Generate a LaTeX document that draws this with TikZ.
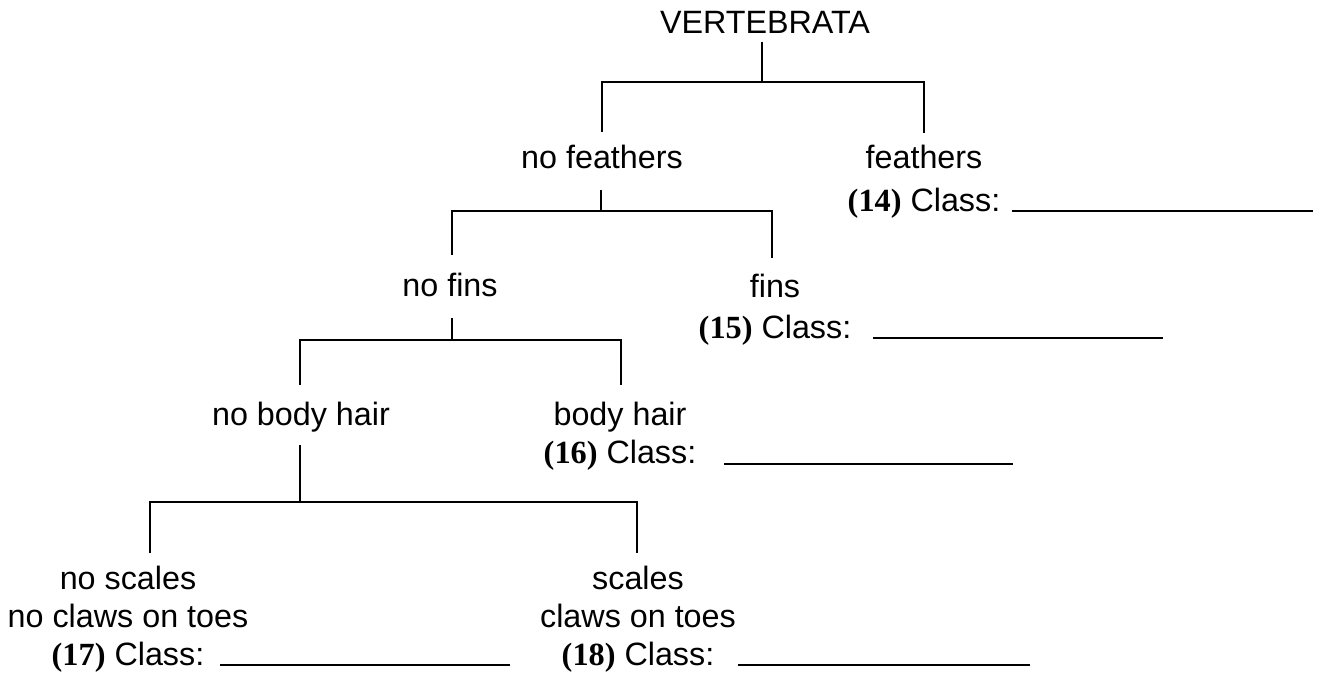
\documentclass[tikz,border=0pt]{standalone}
\usepackage{fontspec}
\setmainfont{Liberation Sans}
\newfontfamily\numfont{Liberation Serif}
\newcommand{\cnum}[1]{{\numfont\bfseries (#1)}}
\begin{document}
\begin{tikzpicture}[x=1pt,y=-1pt,
  lbl/.style={inner sep=0pt,outer sep=0pt,anchor=base,align=center,font=\fontsize{32.3}{38}\selectfont},
  tree/.style={line width=2.8pt},
  blank/.style={line width=2pt}]
\useasboundingbox (0,0) rectangle (1317,677);
% labels (multi-line labels are placed by the baseline of their last line)
\node[lbl] (root) at (765,34) {VERTEBRATA};
\node[lbl] (nf) at (602,168) {no feathers};
\node[lbl] (f) at (924,211) {feathers\\[5pt]\cnum{14} Class:};
\node[lbl] (nfin) at (450,296) {no fins};
\node[lbl] (fin) at (775,338) {fins\\[3pt]\cnum{15} Class:};
\node[lbl] (nbh) at (301,425) {no body hair};
\node[lbl] (bh) at (620,463) {body hair\\\cnum{16} Class:};
\node[lbl] (ns) at (128,665) {no scales\\no claws on toes\\\cnum{17} Class:};
\node[lbl] (s) at (638,665) {scales\\claws on toes\\\cnum{18} Class:};
% junctions
\coordinate (j1) at (762,82);
\coordinate (j2) at (601,211);
\coordinate (j3) at (452,340);
\coordinate (j4) at (300,502);
% branch ends
\coordinate (r0) at (762,42);
\coordinate (a1) at (602,132);
\coordinate (a2) at (924,133);
\coordinate (b0) at (601,190);
\coordinate (b1) at (452,255);
\coordinate (b2) at (772,258);
\coordinate (c0) at (452,318);
\coordinate (c1) at (300,385);
\coordinate (c2) at (621,385);
\coordinate (d0) at (300,445);
\coordinate (d1) at (150,553);
\coordinate (d2) at (637,553);
\draw[tree] (r0) -- (j1);
\draw[tree] (a1) |- (j1) -| (a2);
\draw[tree] (b0) -- (j2);
\draw[tree] (b1) |- (j2) -| (b2);
\draw[tree] (c0) -- (j3);
\draw[tree] (c1) |- (j3) -| (c2);
\draw[tree] (d0) -- (j4);
\draw[tree] (d1) |- (j4) -| (d2);
% answer blanks
\coordinate (l14a) at (1012,211); \coordinate (l14b) at (1313,211);
\coordinate (l15a) at (873,338); \coordinate (l15b) at (1163,338);
\coordinate (l16a) at (724,464); \coordinate (l16b) at (1013,464);
\coordinate (l17a) at (220,665); \coordinate (l17b) at (510,665);
\coordinate (l18a) at (738,665); \coordinate (l18b) at (1030,665);
\draw[blank] (l14a) -- (l14b);
\draw[blank] (l15a) -- (l15b);
\draw[blank] (l16a) -- (l16b);
\draw[blank] (l17a) -- (l17b);
\draw[blank] (l18a) -- (l18b);
\end{tikzpicture}
\end{document}
